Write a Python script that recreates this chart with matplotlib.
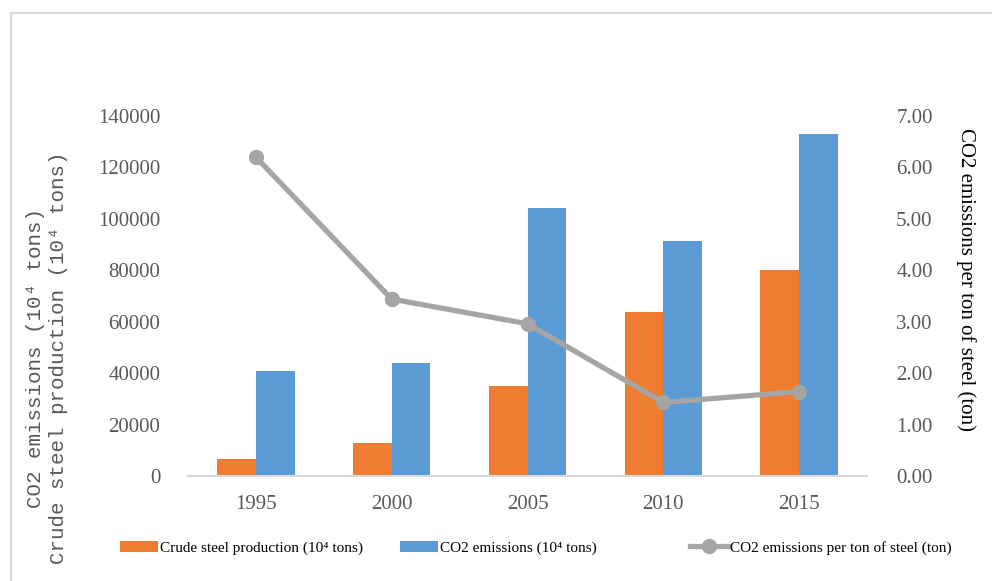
import matplotlib
matplotlib.use("Agg")
import matplotlib.pyplot as plt
import numpy as np
from matplotlib.patches import Rectangle
from matplotlib.ticker import FuncFormatter

# Steel output, CO2 emissions and emission intensity by year
years = ["1995", "2000", "2005", "2010", "2015"]
crude_steel = [6500, 12700, 35000, 63600, 80200]        # 10^4 tons
co2_emissions = [40700, 43800, 104300, 91300, 133100]   # 10^4 tons
co2_per_ton = [6.20, 3.44, 2.96, 1.43, 1.64]            # ton CO2 / ton steel

ORANGE = "#ED7D31"
BLUE = "#5B9BD5"
GRAY = "#A5A5A5"
TICK_GRAY = "#595959"
AXIS_GRAY = "#D9D9D9"

W, H = 992, 581
fig = plt.figure(figsize=(W / 100, H / 100), dpi=100)

# light outer frame
fig.patches.append(Rectangle((11 / W, -0.1), 1.2, 1.1 - 13 / H,
                             transform=fig.transFigure, fill=False,
                             edgecolor=AXIS_GRAY, linewidth=1.5))

ax = fig.add_axes([188 / W, 1 - 476 / H, (867 - 188) / W, (476 - 116) / H])
x = np.arange(len(years))
bw = 0.285
b1 = ax.bar(x - bw / 2, crude_steel, bw, color=ORANGE, zorder=2)
b2 = ax.bar(x + bw / 2, co2_emissions, bw, color=BLUE, zorder=2)

ax.set_xlim(-0.5, len(years) - 0.5)
ax.set_ylim(0, 140000)
ax.set_yticks(np.arange(0, 140001, 20000))
ax.set_xticks(x)
ax.set_xticklabels(years)
for s in ["top", "left", "right"]:
    ax.spines[s].set_visible(False)
ax.spines["bottom"].set_color(AXIS_GRAY)
ax.spines["bottom"].set_linewidth(1.5)
ax.tick_params(axis="both", length=0, labelsize=15, labelcolor=TICK_GRAY)
ax.tick_params(axis="y", pad=20)
ax.tick_params(axis="x", pad=14)
for lab in ax.get_xticklabels() + ax.get_yticklabels():
    lab.set_family("Liberation Serif")

ax2 = ax.twinx()
ln, = ax2.plot(x, co2_per_ton, color=GRAY, linewidth=3.8, marker="o",
               markersize=10, zorder=3)
ax2.set_ylim(0, 7)
ax2.set_yticks(np.arange(0, 7.01, 1))
ax2.yaxis.set_major_formatter(FuncFormatter(lambda v, p: f"{v:.2f}"))
for s in ax2.spines.values():
    s.set_visible(False)
ax2.tick_params(axis="y", length=0, labelsize=15, labelcolor=TICK_GRAY, pad=21)
for lab in ax2.get_yticklabels():
    lab.set_family("Liberation Serif")

# axis titles
fig.text(47 / W, 1 - 358 / H,
         "CO2 emissions (10\u2074 tons)\nCrude steel production (10\u2074 tons)",
         rotation=90, ha="center", va="center", color=TICK_GRAY,
         fontsize=15, family=["Liberation Mono", "DejaVu Sans Mono"],
         linespacing=1.25, multialignment="center")
fig.text(966 / W, 1 - 279 / H, "CO2 emissions per ton of steel (ton)",
         rotation=-90, ha="center", va="center", color="black",
         fontsize=15, family=["Liberation Serif", "DejaVu Serif"])

# legend entries placed one by one along the bottom
leg_font = {"family": ["Liberation Serif", "DejaVu Serif"], "size": 11}
entries = [
    (b1, "Crude steel production (10\u2074 tons)", 120),
    (b2, "CO2 emissions (10\u2074 tons)", 400),
    (ln, "CO2 emissions per ton of steel (ton)", 690),
]
for handle, label, xpos in entries:
    lg = fig.legend([handle], [label], loc="center left",
                    bbox_to_anchor=(xpos / W, 1 - 548 / H),
                    frameon=False, prop=leg_font, handlelength=2.5,
                    handleheight=0.7, handletextpad=0.1, borderpad=0,
                    borderaxespad=0)

fig.savefig("out.png", dpi=100)
